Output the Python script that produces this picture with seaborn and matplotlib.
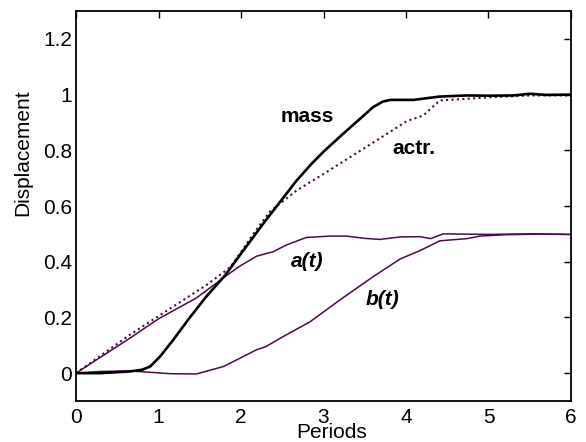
import matplotlib
matplotlib.use("Agg")
import matplotlib.pyplot as plt
import seaborn as sns

sns.set_theme(style="white")
plt.rcParams['font.family'] = ['Liberation Sans', 'DejaVu Sans']
plt.rcParams['text.color'] = 'black'
plt.rcParams['axes.labelcolor'] = 'black'
plt.rcParams['xtick.color'] = 'black'
plt.rcParams['ytick.color'] = 'black'

# Data
mass_x = [0, 0.3, 0.65, 0.8, 0.9, 1.02, 1.18, 1.38, 1.58, 1.81, 1.99, 2.27, 2.5, 2.67, 2.85, 3.0, 3.24, 3.45, 3.6, 3.72, 3.81, 4.09, 4.41, 4.74, 5.0, 5.3, 5.5, 5.7, 6.0]
mass_y = [0, 0, 0.006, 0.012, 0.024, 0.06, 0.12, 0.20, 0.275, 0.352, 0.425, 0.537, 0.625, 0.69, 0.75, 0.795, 0.86, 0.915, 0.955, 0.975, 0.981, 0.981, 0.993, 0.997, 0.996, 0.997, 1.003, 0.999, 1.0]

actr_x = [0, 0.65, 1.0, 1.58, 1.87, 1.99, 2.15, 2.35, 2.67, 3.0, 3.4, 3.8, 4.01, 4.21, 4.32, 4.41, 4.74, 5.0, 5.5, 6.0]
actr_y = [0, 0.137, 0.205, 0.316, 0.38, 0.43, 0.50, 0.58, 0.655, 0.715, 0.79, 0.865, 0.905, 0.925, 0.955, 0.979, 0.985, 0.99, 0.997, 0.997]

a_x = [0, 0.65, 1.0, 1.46, 1.87, 1.99, 2.19, 2.39, 2.55, 2.79, 3.08, 3.28, 3.5, 3.68, 3.93, 4.17, 4.3, 4.45, 5.0, 5.5, 6.0]
a_y = [0, 0.125, 0.195, 0.27, 0.36, 0.385, 0.42, 0.436, 0.46, 0.487, 0.492, 0.492, 0.484, 0.48, 0.489, 0.49, 0.483, 0.5, 0.498, 0.5, 0.498]

b_x = [0, 0.3, 0.65, 0.85, 1.14, 1.46, 1.79, 2.07, 2.19, 2.3, 2.51, 2.84, 3.2, 3.6, 3.93, 4.17, 4.41, 4.74, 4.9, 5.2, 5.6, 6.0]
b_y = [0, 0.006, 0.008, 0.004, -0.002, -0.003, 0.024, 0.066, 0.084, 0.095, 0.131, 0.185, 0.263, 0.346, 0.41, 0.44, 0.475, 0.483, 0.492, 0.497, 0.499, 0.498]

x_ticks = [0, 1, 2, 3, 4, 5, 6]
y_ticks = [0, 0.2, 0.4, 0.6, 0.8, 1.0, 1.2]
y_ticklabels = ["0", "0.2", "0.4", "0.6", "0.8", "1", "1.2"]

purple = "#4a0a4a"

fig = plt.figure(figsize=(5.86, 4.42), dpi=100)
ax = fig.add_axes([0.1297, 0.0928, 0.8447, 0.8822])

sns.lineplot(x=a_x, y=a_y, ax=ax, color=purple, linewidth=1.1, estimator=None, sort=False)
sns.lineplot(x=b_x, y=b_y, ax=ax, color=purple, linewidth=1.1, estimator=None, sort=False)
sns.lineplot(x=actr_x, y=actr_y, ax=ax, color=purple, linewidth=1.5, linestyle=(0, (1, 1.6)), estimator=None, sort=False)
sns.lineplot(x=mass_x, y=mass_y, ax=ax, color="black", linewidth=1.9, estimator=None, sort=False)

ax.set_xlim(0, 6)
ax.set_ylim(-0.1, 1.3)
ax.set_xticks(x_ticks)
ax.set_xticklabels([str(v) for v in x_ticks])
ax.set_yticks(y_ticks)
ax.set_yticklabels(y_ticklabels)
ax.tick_params(direction="in", length=5, width=1, colors="black", labelsize=15,
               top=True, right=True, labeltop=False, labelright=False)
ax.tick_params(axis="x", pad=5)
ax.tick_params(axis="y", pad=3)
for s in ax.spines.values():
    s.set_color("black")
    s.set_linewidth(1.3)

ax.set_xlabel("Periods", fontsize=15, va="center")
ax.xaxis.set_label_coords(0.517, -0.082)
ax.set_ylabel("Displacement", fontsize=15, va="center")
ax.yaxis.set_label_coords(-0.108, 0.637)

ax.text(2.8, 0.92, "mass", fontsize=15, fontweight="bold", ha="center", va="center")
ax.text(4.09, 0.806, "actr.", fontsize=15, fontweight="bold", ha="center", va="center")
ax.text(2.8, 0.40, "a(t)", fontsize=15, fontweight="bold", fontstyle="italic", ha="center", va="center")
ax.text(3.72, 0.263, "b(t)", fontsize=15, fontweight="bold", fontstyle="italic", ha="center", va="center")

fig.savefig("out.png", dpi=100, facecolor="white")
